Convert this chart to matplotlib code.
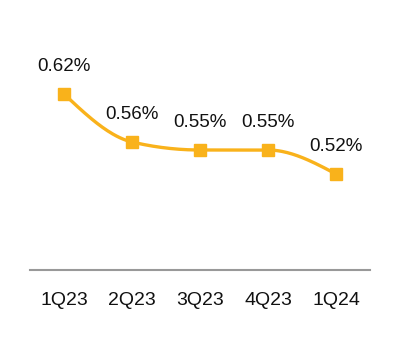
import numpy as np
import matplotlib
matplotlib.use("Agg")
import matplotlib.pyplot as plt

categories = ["1Q23", "2Q23", "3Q23", "4Q23", "1Q24"]
values = [0.62, 0.56, 0.55, 0.55, 0.52]
labels = ["0.62%", "0.56%", "0.55%", "0.55%", "0.52%"]

COLOR = "#F9B21B"
plt.rcParams['font.family'] = ['Liberation Sans', 'DejaVu Sans']

def monotone_curve(x, y, n=40):
    x = np.asarray(x, float); y = np.asarray(y, float)
    h = np.diff(x); d = np.diff(y) / h
    m = np.zeros_like(y)
    for i in range(1, len(y) - 1):
        if d[i-1] * d[i] <= 0:
            m[i] = 0
        else:
            p = (d[i-1] * h[i] + d[i] * h[i-1]) / (h[i-1] + h[i])
            m[i] = (np.sign(d[i-1]) + np.sign(d[i])) * min(abs(d[i-1]), abs(d[i]), 0.5 * abs(p))
    m[0] = (3 * d[0] - m[1]) / 2 if len(y) > 2 else d[0]
    m[-1] = (3 * d[-1] - m[-2]) / 2 if len(y) > 2 else d[-1]
    if m[0] * d[0] < 0: m[0] = 0
    if m[-1] * d[-1] < 0: m[-1] = 0
    xs, ys = [], []
    for i in range(len(h)):
        t = np.linspace(0, 1, n)
        h00 = 2*t**3 - 3*t**2 + 1; h10 = t**3 - 2*t**2 + t
        h01 = -2*t**3 + 3*t**2; h11 = t**3 - t**2
        xs.append(x[i] + t * h[i])
        ys.append(h00*y[i] + h10*h[i]*m[i] + h01*y[i+1] + h11*h[i]*m[i+1])
    return np.concatenate(xs), np.concatenate(ys)

fig = plt.figure(figsize=(4, 3.4), dpi=100)
ax = fig.add_axes([0.075, 1 - 270/340, 0.85, 250/340])
x = np.arange(len(categories))
cx, cy = monotone_curve(x, values)
ax.plot(cx, cy, color=COLOR, lw=2.4, solid_capstyle='round', zorder=2)
ax.plot(x, values, ls='none', marker='s', ms=8.5, color=COLOR, zorder=3)
for xi, v, lab in zip(x, values, labels):
    ax.annotate(lab, (xi, v), xytext=(0, 19.5), textcoords='offset points',
                ha='center', va='center', fontsize=13.5, color='#111111')

ax.set_xlim(-0.5, 4.5)
ax.set_ylim(0.40, 0.7125)
ax.set_xticks(x)
ax.set_xticklabels(categories, fontsize=14, color='#111111')
ax.tick_params(axis='x', length=0, pad=16)
ax.set_yticks([])
for s in ['top', 'left', 'right']:
    ax.spines[s].set_visible(False)
ax.spines['bottom'].set_color('#999999')
ax.spines['bottom'].set_linewidth(1.5)
fig.savefig("out.png", dpi=100)
